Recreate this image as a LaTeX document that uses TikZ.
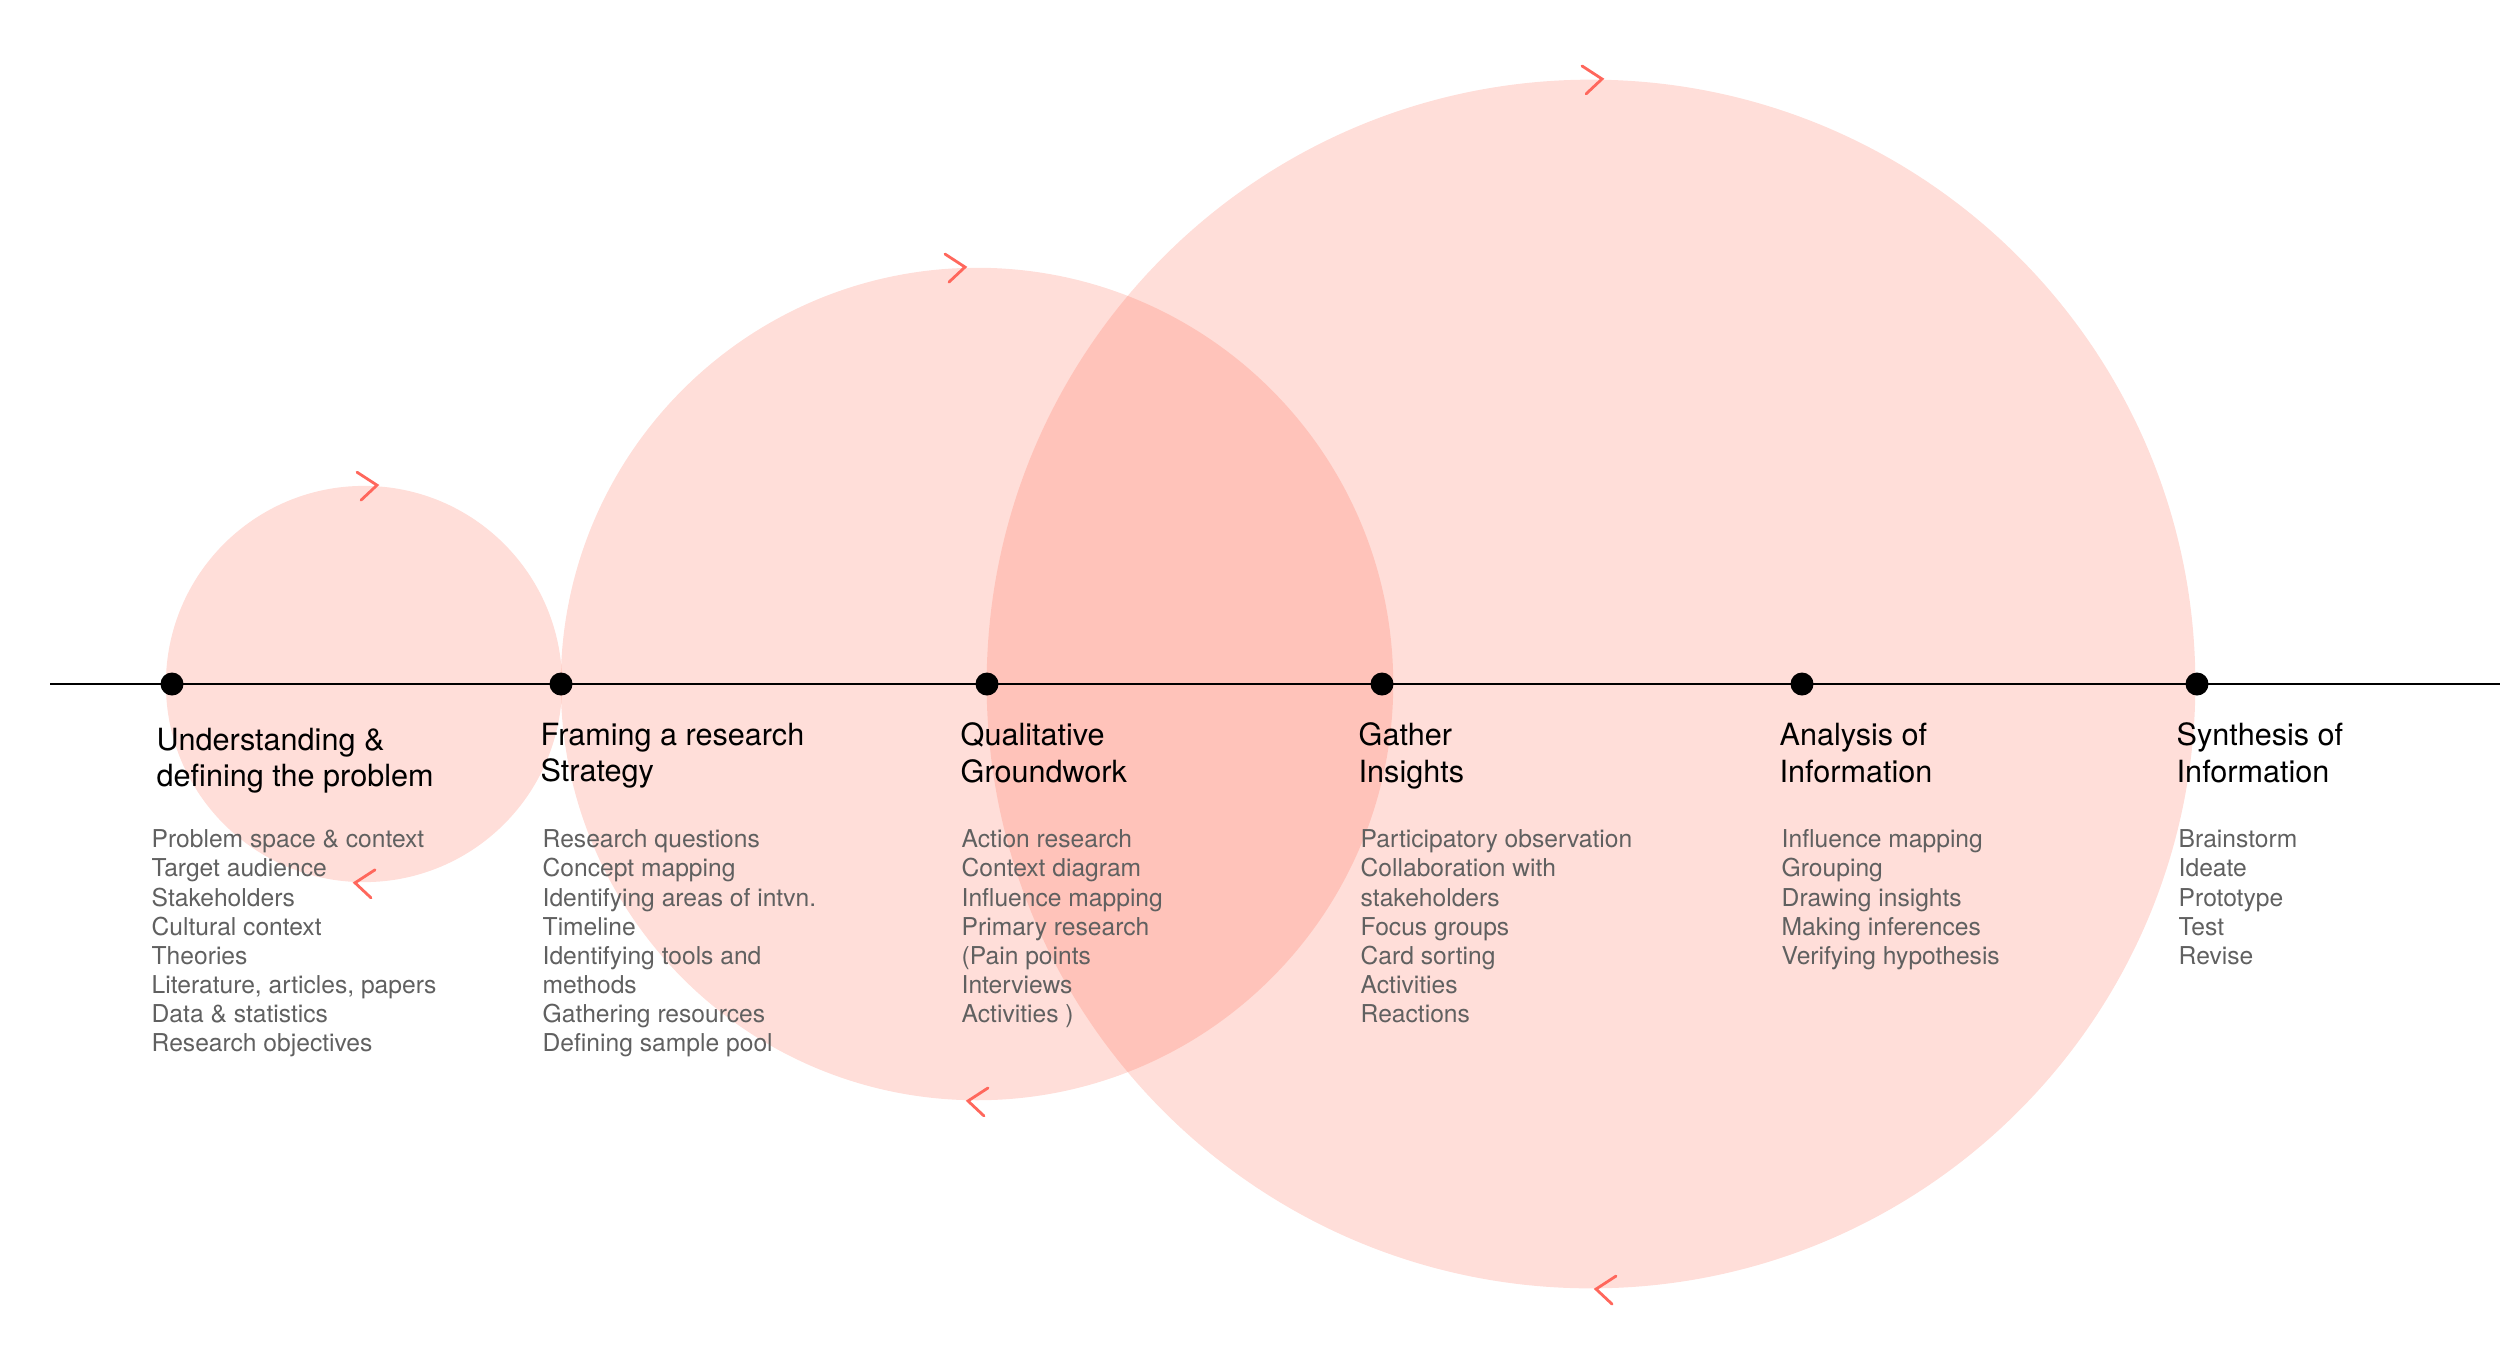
\documentclass[tikz,border=0pt]{standalone}
\usepackage{fontspec}
\setmainfont{TeX Gyre Heros}
\usepackage{xcolor}
\definecolor{bubblefill}{HTML}{FF624A}
\definecolor{arrowred}{HTML}{FF675C}
\definecolor{itemgrey}{HTML}{606060}

\begin{document}
\begin{tikzpicture}[
    x=0.01cm, y=-0.01cm,
    bubble/.style={circle, fill=bubblefill, fill opacity=0.21, inner sep=0pt},
    stage/.style={circle, fill=black, inner sep=0pt, minimum size=0.23cm},
    axis/.style={draw=black, line width=0.7pt},
    chev/.style={draw=arrowred, line width=0.8pt, line cap=round},
    stagetitle/.style={anchor=north west, inner sep=0pt, align=left,
                       font=\fontsize{8.7}{10.5}\selectfont},
    stageitems/.style={anchor=north west, inner sep=0pt, align=left,
                       text=itemgrey, font=\fontsize{7}{8.3}\selectfont},
]
\useasboundingbox (0,0) rectangle (2500,1357);

% Iteration loops
\node[bubble, minimum size=3.96cm] (bub1) at (364,684) {};
\node[bubble, minimum size=8.32cm] (bub2) at (977,684) {};
\node[bubble, minimum size=12.08cm] (bub3) at (1591,684) {};

% Timeline
\coordinate (axisL) at (50,684);
\coordinate (axisR) at (2500,684);
\draw[axis] (axisL) -- (axisR);

\node[stage] (s1) at (172,684) {};
\node[stage] (s2) at (561,684) {};
\node[stage] (s3) at (987,684) {};
\node[stage] (s4) at (1382,684) {};
\node[stage] (s5) at (1802,684) {};
\node[stage] (s6) at (2197,684) {};

% Direction marks
\draw[chev] ([xshift=0.13cm]bub1.north) ++(-20,-13) -- ++(20,13) -- ++(-16,15);
\draw[chev] ([xshift=-0.12cm]bub2.north) ++(-20,-13) -- ++(20,13) -- ++(-16,15);
\draw[chev] ([xshift=0.11cm]bub3.north) ++(-20,-13) -- ++(20,13) -- ++(-16,15);
\draw[chev] ([xshift=-0.09cm]bub1.south) ++(20,-13) -- ++(-20,13) -- ++(16,15);
\draw[chev] ([xshift=-0.09cm]bub2.south) ++(20,-13) -- ++(-20,13) -- ++(16,15);
\draw[chev] ([xshift=0.05cm]bub3.south) ++(20,-13) -- ++(-20,13) -- ++(16,15);

% Stages
\node[stagetitle] (t1) at (156,727) {Understanding \&\\defining the problem};
\node[stageitems] (l1) at (151,829) {
    Problem space \& context\\
    Target audience\\
    Stakeholders\\
    Cultural context\\
    Theories\\
    Literature, articles, papers\\
    Data \& statistics\\
    Research objectives
};

\node[stagetitle] (t2) at (540,722) {Framing a research\\Strategy};
\node[stageitems] (l2) at (542,829) {
    Research questions\\
    Concept mapping\\
    Identifying areas of intvn.\\
    Timeline\\
    Identifying tools and\\
    methods\\
    Gathering resources\\
    Defining sample pool
};

\node[stagetitle] (t3) at (960,722) {Qualitative\\Groundwork};
\node[stageitems] (l3) at (961,829) {
    Action research\\
    Context diagram\\
    Influence mapping\\
    Primary research\\
    (Pain points\\
    Interviews\\
    Activities )
};

\node[stagetitle] (t4) at (1358,722) {Gather\\Insights};
\node[stageitems] (l4) at (1360,829) {
    Participatory observation\\
    Collaboration with\\
    stakeholders\\
    Focus groups\\
    Card sorting\\
    Activities\\
    Reactions
};

\node[stagetitle] (t5) at (1779,722) {Analysis of\\Information};
\node[stageitems] (l5) at (1781,829) {
    Influence mapping\\
    Grouping\\
    Drawing insights\\
    Making inferences\\
    Verifying hypothesis
};

\node[stagetitle] (t6) at (2176,722) {Synthesis of\\Information};
\node[stageitems] (l6) at (2178,829) {
    Brainstorm\\
    Ideate\\
    Prototype\\
    Test\\
    Revise
};

\end{tikzpicture}
\end{document}
